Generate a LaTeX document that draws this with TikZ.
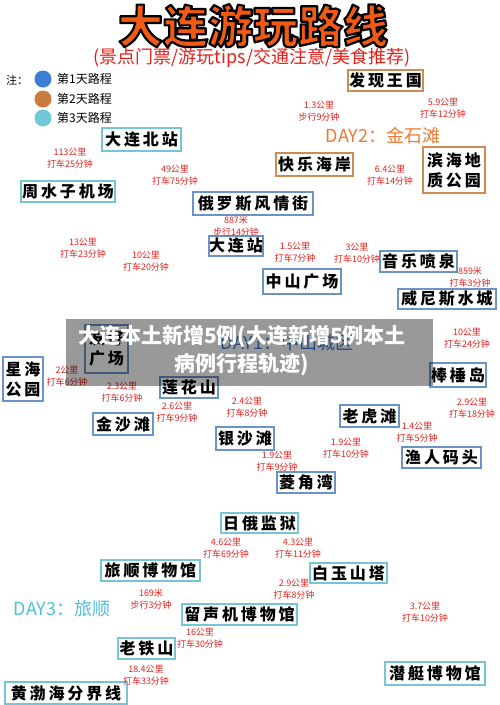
\documentclass[tikz,border=0pt]{standalone}
\usepackage{fontspec}
\newfontfamily\cjk{Noto Sans CJK SC}
\usetikzlibrary{calc}
\pgfdeclarelayer{bg}
\pgfsetlayers{bg,main}
\definecolor{bluebox}{HTML}{6A93C6}
\definecolor{blueline}{HTML}{5F8FC6}
\definecolor{tealbox}{HTML}{74C6D6}
\definecolor{cyanline}{HTML}{45BFDA}
\definecolor{tealline}{HTML}{66C5D6}
\definecolor{orgbox}{HTML}{CD8D52}
\definecolor{orgline}{HTML}{C7874A}
\definecolor{lblred}{HTML}{E3231F}
\definecolor{titleorg}{HTML}{F25A14}
\definecolor{subred}{HTML}{E5201A}
\definecolor{daytwo}{HTML}{EE7A34}
\definecolor{daythree}{HTML}{4FC1DA}
\definecolor{dayone}{HTML}{3B7ED3}
\definecolor{legone}{HTML}{3B7ED3}
\definecolor{legtwo}{HTML}{C97C3E}
\definecolor{legthree}{HTML}{6FC9D9}
\newcommand\bx[7]{\node[#6, minimum width={(#4-#2)*1pt}, minimum height={(#5-#3)*1pt}] (#1) at ({(#2+#4)/2},{(#3+#5)/2}) {#7};}
\newcommand\outlinetext[1]{\special{pdf:literal direct 2 Tr 2.2 w 1 j 0 0 0 RG}#1\special{pdf:literal direct 0 Tr}}
\tikzset{
  place/.style={draw, fill=white, line width=1.6pt, inner sep=0pt, align=center,
    font=\cjk\bfseries\fontsize{16}{20}\selectfont\addfontfeature{LetterSpace=18}},
  bluebx/.style={place, draw=bluebox},
  tealbx/.style={place, draw=tealbox},
  orgbx/.style={place, draw=orgbox},
  lbl/.style={text=lblred, inner sep=0pt, align=center, font=\cjk\fontsize{9}{11.5}\selectfont},
  bline/.style={blueline, line width=1.6pt},
  cline/.style={cyanline, line width=1.6pt},
  tline/.style={tealline, line width=1.6pt},
  oline/.style={orgline, line width=1.6pt},
  ttl/.style={inner sep=0pt, font=\cjk\bfseries\fontsize{45}{48}\selectfont},
  legtxt/.style={inner sep=0pt, anchor=west, font=\cjk\fontsize{12}{14}\selectfont},
  daytxt/.style={inner sep=0pt, font=\cjk\fontsize{18}{22}\selectfont},
}
\begin{document}
\begin{tikzpicture}[x=1pt, y=-1pt]
\fill[white] (0,0) rectangle (500,705);
\useasboundingbox (0,0) rectangle (500,705);

% title
\node[ttl, text=titleorg] (title) at (253,26) {\outlinetext{大连游玩路线}};
\node[inner sep=0pt, text=subred, font=\cjk\fontsize{18}{20}\selectfont] (sub) at (252,58) {(景点门票/游玩tips/交通注意/美食推荐)};

% legend
\node[inner sep=0pt, anchor=west, font=\cjk\fontsize{11}{13}\selectfont] (zhu) at (6,80) {注：};
\fill[legone] (43,79) circle (8.5);
\fill[legtwo] (43,99) circle (8.5);
\fill[legthree] (43,118) circle (8.5);
\node[legtxt] (lg1) at (57,79) {第1天路程};
\node[legtxt] (lg2) at (57,99) {第2天路程};
\node[legtxt] (lg3) at (57,118) {第3天路程};

% day texts
\node[daytxt, text=daytwo] (d2) at (383,136) {DAY2：金石滩};
\node[daytxt, text=daythree] (d3) at (62,609) {DAY3：旅顺};
\node[daytxt, text=dayone] (d1) at (287,343) {DAY1：中山城区};

% nodes day 1
\bx{bz}{102}{128}{181}{151}{tealbx}{大连北站}
\bx{zs}{21}{181}{115}{202}{tealbx}{周水子机场}
\bx{el}{193}{192}{313}{215}{bluebx}{俄罗斯风情街}
\bx{dl}{209}{236}{263}{256}{bluebx}{大连站}
\bx{zh}{263}{269}{341}{294}{bluebx}{中山广场}
\bx{yy}{380}{251}{457}{272}{bluebx}{音乐喷泉}
\bx{wn}{398}{289}{496}{309}{bluebx}{威尼斯水城}
\bx{bc}{430}{363}{486}{387}{bluebx}{棒棰岛}
\bx{lh}{340}{405}{399}{427}{bluebx}{老虎滩}
\bx{yr}{402}{447}{481}{468}{bluebx}{渔人码头}
\bx{lj}{277}{472}{335}{493}{bluebx}{菱角湾}
\bx{ys}{216}{427}{274}{450}{bluebx}{银沙滩}
\bx{lhs}{160}{377}{218}{398}{bluebx}{莲花山}
\bx{js}{93}{413}{153}{435}{bluebx}{金沙滩}
\bx{xh}{3}{357}{43}{401}{bluebx}{星海\\公园}
\bx{yh}{85}{325}{128}{373}{bluebx}{友好\\广场}
% day 2
\bx{fx}{348}{70}{423}{91}{orgbx}{发现王国}
\bx{kl}{276}{153}{353}{176}{orgbx}{快乐海岸}
\bx{bh}{423}{147}{485}{193}{orgbx}{滨海地\\质公园}
% day 3
\bx{rr}{221}{513}{298}{533}{tealbx}{日俄监狱}
\bx{ls}{101}{560}{200}{581}{tealbx}{旅顺博物馆}
\bx{by}{310}{563}{387}{583}{tealbx}{白玉山塔}
\bx{lsj}{182}{604}{297}{625}{tealbx}{留声机博物馆}
\bx{lt}{118}{638}{175}{659}{tealbx}{老铁山}
\bx{hb}{5}{682}{127}{704}{tealbx}{黄渤海分界线}
\bx{qt}{385}{662}{485}{685}{tealbx}{潜艇博物馆}

% connectors
\begin{pgfonlayer}{bg}
\draw[cline] ([shift={(-14.5,11.5)}]bz.center) -- ([shift={(18,-10.5)}]zs.center);
\draw[cline] ([shift={(47,8.5)}]zs.center) -- ([shift={(-38.5,-10.5)}]kl.center);
\draw[cline] ([shift={(15,10.5)}]zs.center) -- ([shift={(-4.5,-24)}]yh.center);
\draw[bline] ([shift={(-60,11.5)}]el.center) -- ([shift={(21.5,-23)}]yh.center);
\draw[bline] ([shift={(30,11.5)}]el.center) -- ([shift={(21,-10)}]dl.center);
\draw[bline] ([shift={(26,10)}]dl.center) -- ([shift={(-5,-12.5)}]zh.center);
\draw[bline] ([shift={(39,-4.5)}]zh.center) -- ([shift={(-38.5,-1.5)}]yy.center);
\draw[bline] ([shift={(-5.5,10.5)}]yy.center) -- ([shift={(-1,-10)}]wn.center);
\draw[bline] ([shift={(41,10)}]wn.center) -- ([shift={(8,-12)}]bc.center);
\draw[bline] ([shift={(5,12)}]bc.center) -- ([shift={(-2.5,-10.5)}]yr.center);
\draw[bline] ([shift={(27.5,11)}]lh.center) -- ([shift={(-2.5,-10.5)}]yr.center);
\draw[bline] ([shift={(-4.5,11)}]lh.center) -- ([shift={(29,-10.5)}]lj.center);
\draw[bline] ([shift={(24,11.5)}]ys.center) -- ([shift={(-18,-10.5)}]lj.center);
\draw[bline] ([shift={(27,10.5)}]lhs.center) -- ([shift={(-5,-11.5)}]ys.center);
\draw[bline] ([shift={(-29,10.5)}]lhs.center) -- ([shift={(29,-11)}]js.center);
\draw[bline] ([shift={(2,-11)}]js.center) -- ([shift={(0.5,24)}]yh.center);
\draw[bline] ([shift={(20,3)}]xh.center) -- ([shift={(-21.5,14)}]yh.center);
\draw[oline] ([shift={(-18.5,10.5)}]fx.center) -- ([shift={(-1.5,-11.5)}]kl.center);
\draw[oline] ([shift={(6.5,10.5)}]fx.center) -- ([shift={(6,-23)}]bh.center);
\draw[oline] ([shift={(38.5,-0.5)}]kl.center) -- ([shift={(-31,0)}]bh.center);
\draw[tline] ([shift={(-7.5,10)}]rr.center) -- ([shift={(49.5,-10.5)}]ls.center);
\draw[tline] ([shift={(-6.5,10)}]rr.center) -- ([shift={(-38.5,-10)}]by.center);
\draw[tline] ([shift={(-36.5,10)}]by.center) -- ([shift={(57.5,-10.5)}]lsj.center);
\draw[tline] ([shift={(1.5,10.5)}]ls.center) -- ([shift={(-57.5,-10.5)}]lsj.center);
\draw[tline] ([shift={(-57.5,9.5)}]lsj.center) -- ([shift={(28.5,-10.5)}]lt.center);
\draw[tline] ([shift={(-1.5,10.5)}]lt.center) -- ([shift={(-3,-11)}]hb.center);
\draw[tline] ([shift={(38.5,10)}]by.center) -- ([shift={(8,-11.5)}]qt.center);
\end{pgfonlayer}

% labels
\node[lbl] (l1) at (70,158) {113公里\\打车25分钟};
\node[lbl] (l2) at (175,175) {49公里\\打车75分钟};
\node[lbl] (l3) at (83,248) {13公里\\打车23分钟};
\node[lbl] (l4) at (146,261) {10公里\\打车20分钟};
\node[lbl] (l5) at (236,226) {887米\\步行14分钟};
\node[lbl] (l6) at (295,252) {1.5公里\\打车7分钟};
\node[lbl] (l7) at (357,253) {3公里\\打车10分钟};
\node[lbl] (l8) at (470,277) {859米\\打车3分钟};
\node[lbl] (l9) at (467,338) {10公里\\打车24分钟};
\node[lbl] (l10) at (472,408) {2.9公里\\打车18分钟};
\node[lbl] (l11) at (417,432) {1.4公里\\打车5分钟};
\node[lbl] (l12) at (346,448) {1.9公里\\打车10分钟};
\node[lbl] (l13) at (277,461) {1.9公里\\打车9分钟};
\node[lbl] (l14) at (247,407) {2.4公里\\打车8分钟};
\node[lbl] (l15) at (177,412) {2.6公里\\打车9分钟};
\node[lbl] (l16) at (122,392) {2.3公里\\打车6分钟};
\node[lbl] (l17) at (67,376) {2公里\\打车6分钟};
\node[lbl] (l18) at (319,111) {1.3公里\\步行9分钟};
\node[lbl] (l19) at (443,108) {5.9公里\\打车12分钟};
\node[lbl] (l20) at (390,175) {6.4公里\\打车14分钟};
\node[lbl] (l21) at (226,548) {4.6公里\\打车69分钟};
\node[lbl] (l22) at (298,548) {4.3公里\\打车11分钟};
\node[lbl] (l23) at (294,589) {2.9公里\\打车8分钟};
\node[lbl] (l24) at (151,599) {169米\\步行3分钟};
\node[lbl] (l25) at (200,638) {16公里\\打车30分钟};
\node[lbl] (l26) at (146,675) {18.4公里\\打车33分钟};
\node[lbl] (l27) at (425,612) {3.7公里\\打车10分钟};

% overlay banner
\fill[black, opacity=0.4] (66,319) rectangle (433,386);
\node[inner sep=0pt, align=center, text=white, font=\cjk\bfseries\fontsize{21}{28}\selectfont] (banner) at (242,351) {大连本土新增5例(大连新增5例本土\\病例行程轨迹)};
\end{tikzpicture}
\end{document}
